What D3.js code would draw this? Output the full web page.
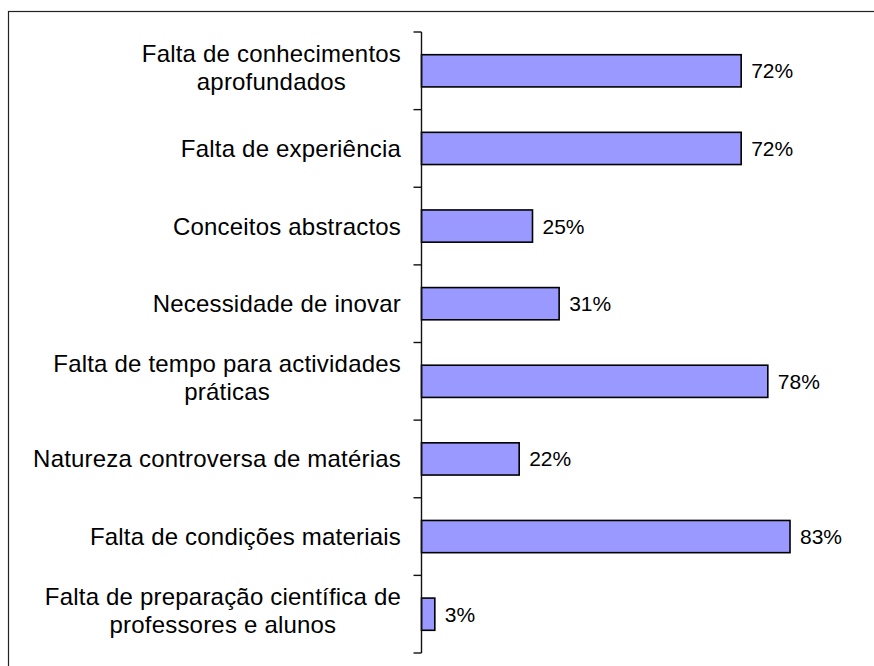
<!DOCTYPE html>
<html>
<head>
<meta charset="utf-8">
<script src="https://cdn.jsdelivr.net/npm/d3@7"></script>
<style>
  html, body { margin: 0; padding: 0; background: #fff; }
  svg { display: block; font-family: "Liberation Sans", Arial, Helvetica, sans-serif; }
</style>
</head>
<body>
<svg id="chart" width="874" height="666"></svg>
<script>
// Difficulties reported, top to bottom; "\n" marks a line break in the label
const categories = [
  "Falta de conhecimentos\naprofundados",
  "Falta de experiência",
  "Conceitos abstractos",
  "Necessidade de inovar",
  "Falta de tempo para actividades\npráticas",
  "Natureza controversa de matérias",
  "Falta de condições materiais",
  "Falta de preparação científica de\nprofessores e alunos"
];
const values = [72, 72, 25, 31, 78, 22, 83, 3];
const valueLabels = ["72%", "72%", "25%", "31%", "78%", "22%", "83%", "3%"];

const svg = d3.select("#chart");

// outer frame
svg.append("rect")
  .attr("x", 8.5).attr("y", 11.5)
  .attr("width", 900).attr("height", 700)
  .attr("fill", "none").attr("stroke", "#222").attr("stroke-width", 1.2);

const axisX = 421.5;
const x = d3.scaleLinear().domain([0, 100]).range([axisX, axisX + 444]);
const y = d3.scaleBand().domain(categories).range([32, 653]).padding(0);
const barH = y.bandwidth() * 0.415;

// bars
svg.append("g").selectAll("rect")
  .data(categories)
  .join("rect")
  .attr("x", x(0))
  .attr("y", d => y(d) + (y.bandwidth() - barH) / 2)
  .attr("width", (d, i) => x(values[i]) - x(0))
  .attr("height", barH)
  .attr("fill", "#9999ff")
  .attr("stroke", "#000")
  .attr("stroke-width", 1.6);

// category axis with ticks between categories
const axis = svg.append("g").attr("stroke", "#111").attr("stroke-width", 1.4);
axis.append("line")
  .attr("x1", axisX).attr("x2", axisX)
  .attr("y1", y.range()[0]).attr("y2", y.range()[1]);
const tickPos = categories.map(c => y(c)).concat([y.range()[1]]);
axis.selectAll("line.tick")
  .data(tickPos)
  .join("line")
  .attr("class", "tick")
  .attr("x1", axisX - 8).attr("x2", axisX)
  .attr("y1", d => d).attr("y2", d => d);

// category labels: lines centred on each other, block right-aligned to the axis
const labelRight = 401;
const labels = svg.append("g").attr("font-size", 24).attr("letter-spacing", 0.2).attr("fill", "#000");
categories.forEach(c => {
  const lines = c.split("\n");
  const cy = y(c) + y.bandwidth() / 2;
  const t = labels.append("text").attr("text-anchor", "middle");
  const base = lines.length === 1 ? cy + 8.5 : cy - 9;
  const spans = lines.map((ln, j) =>
    t.append("tspan").attr("y", base + j * 28).text(ln));
  const maxW = d3.max(spans, s => s.node().getComputedTextLength());
  const cx = labelRight - maxW / 2;
  spans.forEach(s => s.attr("x", cx));
});

// value labels
svg.append("g").attr("font-size", 21).attr("fill", "#000")
  .selectAll("text")
  .data(categories)
  .join("text")
  .attr("x", (d, i) => x(values[i]) + 10)
  .attr("y", d => y(d) + y.bandwidth() / 2 + 7.5)
  .text((d, i) => valueLabels[i]);
</script>
</body>
</html>
